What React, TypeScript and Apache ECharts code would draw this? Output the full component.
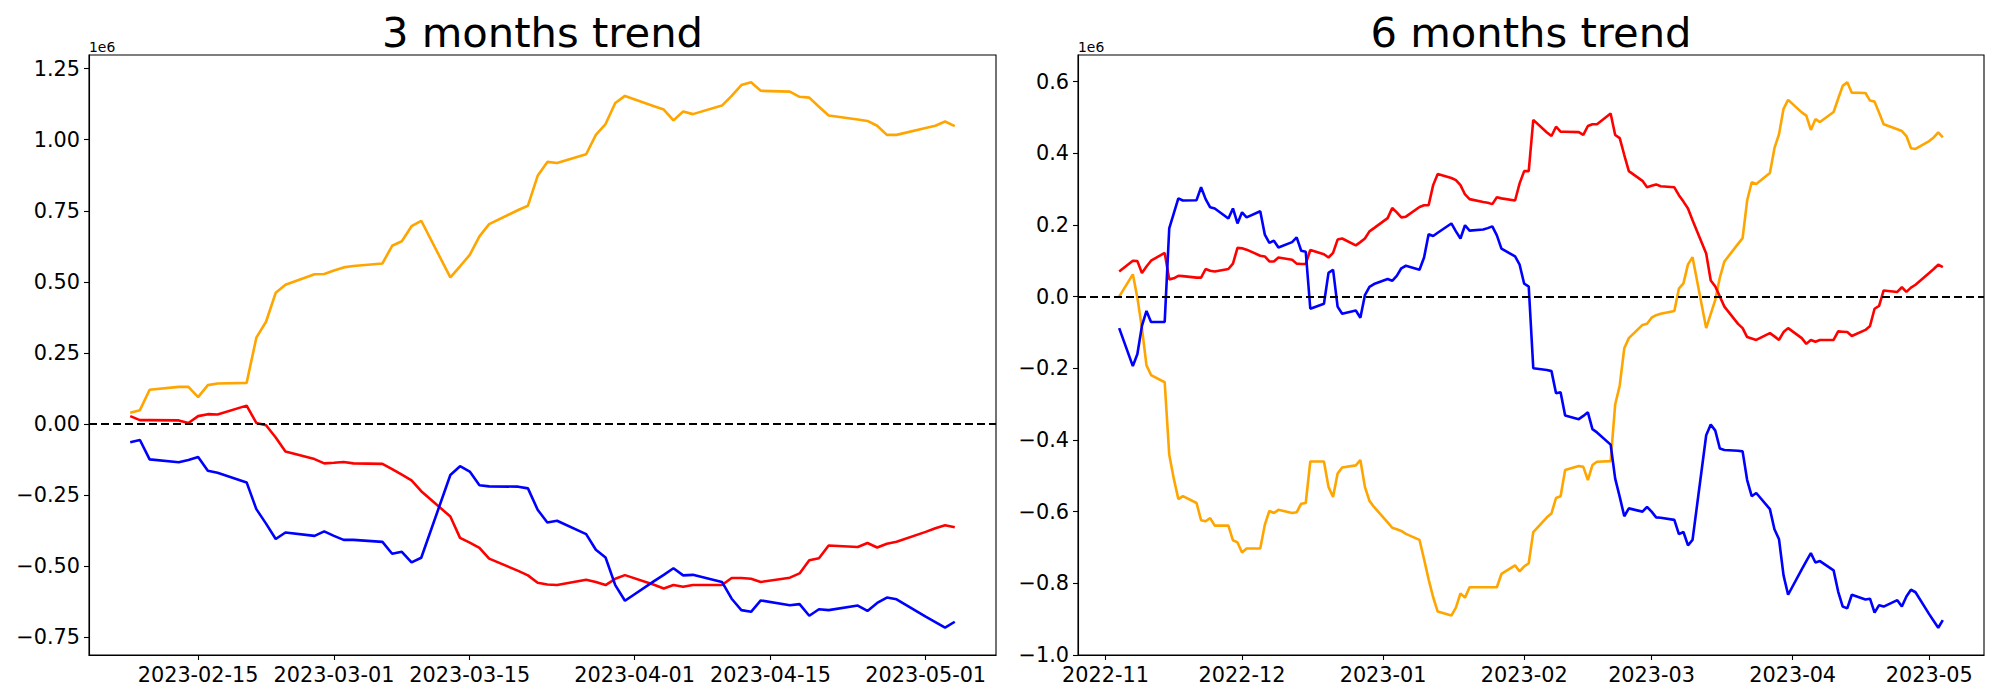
import React, { useEffect, useRef } from "react";
import * as echarts from "echarts";

// ---------- 3 months panel (values in units of 1e6) ----------
const DATES_3M = [
  "2023-02-08", "2023-02-09", "2023-02-10", "2023-02-13", "2023-02-14", "2023-02-15", "2023-02-16", "2023-02-17",
  "2023-02-20", "2023-02-21", "2023-02-22", "2023-02-23", "2023-02-24", "2023-02-27", "2023-02-28",
  "2023-03-01", "2023-03-02", "2023-03-03", "2023-03-06", "2023-03-07", "2023-03-08", "2023-03-09", "2023-03-10",
  "2023-03-13", "2023-03-14", "2023-03-15", "2023-03-16", "2023-03-17", "2023-03-20", "2023-03-21", "2023-03-22",
  "2023-03-23", "2023-03-24", "2023-03-27", "2023-03-28", "2023-03-29", "2023-03-30", "2023-03-31",
  "2023-04-03", "2023-04-04", "2023-04-05", "2023-04-06", "2023-04-07", "2023-04-10", "2023-04-11", "2023-04-12",
  "2023-04-13", "2023-04-14", "2023-04-17", "2023-04-18", "2023-04-19", "2023-04-20", "2023-04-21", "2023-04-24",
  "2023-04-25", "2023-04-26", "2023-04-27", "2023-04-28",
  "2023-05-01", "2023-05-02", "2023-05-03", "2023-05-04",
];
const ORANGE_3M = [
  0.040, 0.049, 0.121, 0.131, 0.131, 0.095, 0.137, 0.143, 0.145, 0.304, 0.360, 0.462, 0.490, 0.527, 0.528,
  0.540, 0.551, 0.556, 0.565, 0.627, 0.643, 0.696, 0.715, 0.516, 0.555, 0.595, 0.660, 0.703, 0.753, 0.768, 0.873,
  0.922, 0.918, 0.949, 1.017, 1.055, 1.129, 1.154,
  1.118, 1.106, 1.068, 1.099, 1.090, 1.120, 1.154, 1.192, 1.202, 1.172, 1.169, 1.151, 1.148, 1.116, 1.085, 1.071,
  1.066, 1.049, 1.017, 1.017,
  1.041, 1.049, 1.064, 1.048,
];
const RED_3M = [
  0.028, 0.014, 0.014, 0.013, 0.004, 0.028, 0.035, 0.034, 0.065, 0.004, -0.004, -0.047, -0.096, -0.123, -0.138,
  -0.136, -0.133, -0.138, -0.140, -0.158, -0.178, -0.198, -0.236, -0.325, -0.400, -0.417, -0.435, -0.473, -0.516,
  -0.532, -0.558, -0.564, -0.566, -0.547, -0.555, -0.566, -0.544, -0.531,
  -0.565, -0.578, -0.566, -0.572, -0.566, -0.566, -0.541, -0.541, -0.544, -0.555, -0.540, -0.525, -0.479, -0.472,
  -0.427, -0.432, -0.418, -0.434, -0.421, -0.414,
  -0.379, -0.366, -0.356, -0.363,
];
const BLUE_3M = [
  -0.064, -0.056, -0.124, -0.134, -0.126, -0.116, -0.164, -0.171, -0.205, -0.299, -0.350, -0.404, -0.381, -0.393, -0.377,
  -0.393, -0.407, -0.407, -0.414, -0.456, -0.449, -0.486, -0.470, -0.179, -0.148, -0.167, -0.215, -0.219, -0.220,
  -0.226, -0.301, -0.346, -0.340, -0.387, -0.442, -0.469, -0.566, -0.621,
  -0.552, -0.530, -0.507, -0.532, -0.530, -0.555, -0.614, -0.654, -0.660, -0.620, -0.637, -0.633, -0.674, -0.651,
  -0.654, -0.638, -0.657, -0.629, -0.610, -0.616,
  -0.677, -0.696, -0.716, -0.695,
];
const XTICKS_3M = ["2023-02-15", "2023-03-01", "2023-03-15", "2023-04-01", "2023-04-15", "2023-05-01"];
const YTICKS_3M = [-0.75, -0.5, -0.25, 0, 0.25, 0.5, 0.75, 1.0, 1.25];

// ---------- 6 months panel (values in units of 1e6) ----------
const DATES_6M = [
  "2022-11-04", "2022-11-07", "2022-11-08", "2022-11-09", "2022-11-10", "2022-11-11", "2022-11-14", "2022-11-15",
  "2022-11-16", "2022-11-17", "2022-11-18", "2022-11-21", "2022-11-22", "2022-11-23", "2022-11-24", "2022-11-25",
  "2022-11-28", "2022-11-29", "2022-11-30",
  "2022-12-01", "2022-12-02", "2022-12-05", "2022-12-06", "2022-12-07", "2022-12-08", "2022-12-09", "2022-12-12",
  "2022-12-13", "2022-12-14", "2022-12-15", "2022-12-16", "2022-12-19", "2022-12-20", "2022-12-21", "2022-12-22",
  "2022-12-23", "2022-12-26", "2022-12-27", "2022-12-28", "2022-12-29", "2022-12-30",
  "2023-01-02", "2023-01-03", "2023-01-04", "2023-01-05", "2023-01-06", "2023-01-09", "2023-01-10", "2023-01-11",
  "2023-01-12", "2023-01-13", "2023-01-16", "2023-01-17", "2023-01-18", "2023-01-19", "2023-01-20", "2023-01-23",
  "2023-01-24", "2023-01-25", "2023-01-26", "2023-01-27", "2023-01-30", "2023-01-31",
  "2023-02-01", "2023-02-02", "2023-02-03", "2023-02-06", "2023-02-07", "2023-02-08", "2023-02-09", "2023-02-10",
  "2023-02-13", "2023-02-14", "2023-02-15", "2023-02-16", "2023-02-17", "2023-02-20", "2023-02-21", "2023-02-22",
  "2023-02-23", "2023-02-24", "2023-02-27", "2023-02-28",
  "2023-03-01", "2023-03-02", "2023-03-03", "2023-03-06", "2023-03-07", "2023-03-08", "2023-03-09", "2023-03-10",
  "2023-03-13", "2023-03-14", "2023-03-15", "2023-03-16", "2023-03-17", "2023-03-20", "2023-03-21", "2023-03-22",
  "2023-03-23", "2023-03-24", "2023-03-27", "2023-03-28", "2023-03-29", "2023-03-30", "2023-03-31",
  "2023-04-03", "2023-04-04", "2023-04-05", "2023-04-06", "2023-04-07", "2023-04-10", "2023-04-11", "2023-04-12",
  "2023-04-13", "2023-04-14", "2023-04-17", "2023-04-18", "2023-04-19", "2023-04-20", "2023-04-21", "2023-04-24",
  "2023-04-25", "2023-04-26", "2023-04-27", "2023-04-28",
  "2023-05-01", "2023-05-02", "2023-05-03", "2023-05-04",
];
const ORANGE_6M = [
  0.000, 0.062, -0.003, -0.088, -0.192, -0.219, -0.239, -0.441, -0.508, -0.565, -0.557, -0.576, -0.624, -0.627,
  -0.618, -0.639, -0.639, -0.680, -0.686,
  -0.714, -0.703, -0.703, -0.637, -0.598, -0.604, -0.595, -0.604, -0.602, -0.578, -0.576, -0.460, -0.460, -0.531,
  -0.559, -0.494, -0.477, -0.471, -0.456, -0.531, -0.570, -0.587,
  -0.630, -0.645, -0.649, -0.654, -0.662, -0.679, -0.733, -0.789, -0.839, -0.879, -0.890, -0.868, -0.828, -0.840,
  -0.811, -0.811, -0.811, -0.811, -0.811, -0.774, -0.750, -0.767,
  -0.753, -0.744, -0.657, -0.616, -0.605, -0.562, -0.557, -0.484, -0.473, -0.475, -0.512, -0.470, -0.461, -0.459,
  -0.301, -0.248, -0.144, -0.116, -0.079, -0.076,
  -0.059, -0.052, -0.048, -0.040, 0.022, 0.037, 0.090, 0.110, -0.088, -0.048, -0.009, 0.053, 0.098, 0.147, 0.163,
  0.268, 0.319, 0.314, 0.345, 0.414, 0.453, 0.524, 0.549,
  0.514, 0.505, 0.465, 0.495, 0.487, 0.515, 0.552, 0.588, 0.598, 0.569, 0.568, 0.547, 0.544, 0.513, 0.481, 0.467,
  0.462, 0.448, 0.414, 0.412,
  0.434, 0.444, 0.458, 0.444,
];
const RED_6M = [
  0.070, 0.100, 0.099, 0.066, 0.084, 0.100, 0.122, 0.048, 0.051, 0.058, 0.057, 0.053, 0.053, 0.077, 0.072, 0.070,
  0.077, 0.092, 0.136,
  0.135, 0.131, 0.114, 0.112, 0.098, 0.098, 0.109, 0.103, 0.092, 0.091, 0.091, 0.130, 0.118, 0.109, 0.122, 0.159,
  0.162, 0.143, 0.152, 0.162, 0.182, 0.191,
  0.219, 0.247, 0.235, 0.221, 0.223, 0.250, 0.255, 0.255, 0.311, 0.342, 0.331, 0.325, 0.311, 0.285, 0.272, 0.264,
  0.262, 0.258, 0.277, 0.274, 0.268, 0.316,
  0.350, 0.350, 0.493, 0.458, 0.448, 0.474, 0.460, 0.460, 0.459, 0.451, 0.476, 0.481, 0.481, 0.511, 0.451, 0.442,
  0.395, 0.350, 0.323, 0.305,
  0.309, 0.313, 0.308, 0.305, 0.283, 0.265, 0.246, 0.213, 0.120, 0.045, 0.028, 0.000, -0.028, -0.076, -0.088,
  -0.113, -0.117, -0.121, -0.102, -0.111, -0.121, -0.099, -0.088,
  -0.116, -0.132, -0.121, -0.126, -0.121, -0.121, -0.097, -0.098, -0.099, -0.110, -0.093, -0.082, -0.034, -0.026,
  0.017, 0.013, 0.026, 0.013, 0.025, 0.033,
  0.066, 0.077, 0.089, 0.082,
];
const BLUE_6M = [
  -0.088, -0.194, -0.160, -0.082, -0.040, -0.071, -0.071, 0.190, 0.232, 0.274, 0.268, 0.269, 0.305, 0.272, 0.249,
  0.246, 0.218, 0.246, 0.204,
  0.235, 0.221, 0.238, 0.173, 0.150, 0.156, 0.137, 0.152, 0.165, 0.128, 0.125, -0.034, -0.020, 0.066, 0.075,
  -0.028, -0.048, -0.039, -0.059, 0.004, 0.027, 0.035,
  0.049, 0.044, 0.058, 0.079, 0.086, 0.075, 0.109, 0.174, 0.169, 0.178, 0.204, 0.182, 0.162, 0.199, 0.184, 0.187,
  0.191, 0.196, 0.171, 0.134, 0.112, 0.089,
  0.036, 0.028, -0.200, -0.205, -0.208, -0.270, -0.267, -0.332, -0.342, -0.333, -0.323, -0.370, -0.379, -0.413,
  -0.508, -0.559, -0.613, -0.591, -0.600, -0.587,
  -0.600, -0.616, -0.617, -0.623, -0.663, -0.657, -0.694, -0.679, -0.387, -0.357, -0.374, -0.424, -0.428, -0.430,
  -0.432, -0.512, -0.557, -0.548, -0.593, -0.649, -0.677, -0.778, -0.832,
  -0.761, -0.738, -0.716, -0.742, -0.738, -0.764, -0.823, -0.865, -0.870, -0.832, -0.845, -0.843, -0.882, -0.861,
  -0.865, -0.847, -0.865, -0.837, -0.818, -0.825,
  -0.886, -0.905, -0.924, -0.903,
];
const XTICKS_6M = ["2022-11-01", "2022-12-01", "2023-01-01", "2023-02-01", "2023-03-01", "2023-04-01", "2023-05-01"];
const YTICKS_6M = [-1.0, -0.8, -0.6, -0.4, -0.2, 0, 0.2, 0.4, 0.6];

const TITLES = ["3 months trend", "6 months trend"];
const OFFSET_LABEL = "1e6";
const COLORS = { orange: "#FFA500", red: "#FF0000", blue: "#0000FF" };

const FONT = "DejaVu Sans";
const MINUS = "\u2212";

function ts(s: string): number {
  const [y, m, d] = s.split("-").map(Number);
  return Date.UTC(y, m - 1, d);
}
function pad2(n: number) {
  return n < 10 ? "0" + n : "" + n;
}
function fmtNum(v: number, dec: number) {
  const r = Math.abs(v) < 1e-9 ? 0 : v;
  const s = r.toFixed(dec);
  return s.startsWith("-") ? MINUS + s.slice(1) : s;
}

// matplotlib-like autoscale (5% margins)
function extent(vals: number[]) {
  const lo = Math.min(...vals);
  const hi = Math.max(...vals);
  const p = (hi - lo) * 0.05;
  return [lo - p, hi + p];
}

const GRIDS = [
  { left: 89, top: 55, width: 907, height: 600 },
  { left: 1078, top: 55, width: 906, height: 600 },
];

export default function App() {
  const ref = useRef<HTMLDivElement>(null);
  useEffect(() => {
    if (!ref.current) return;
    const chart = echarts.init(ref.current, undefined, { renderer: "svg" });

    const panels = [
      {
        dates: DATES_3M, series: [ORANGE_3M, RED_3M, BLUE_3M], xticks: XTICKS_3M, yticks: YTICKS_3M,
        xfmt: (v: number) => { const d = new Date(v); return `${d.getUTCFullYear()}-${pad2(d.getUTCMonth() + 1)}-${pad2(d.getUTCDate())}`; },
        yfmt: (v: number) => fmtNum(v, 2),
      },
      {
        dates: DATES_6M, series: [ORANGE_6M, RED_6M, BLUE_6M], xticks: XTICKS_6M, yticks: YTICKS_6M,
        xfmt: (v: number) => { const d = new Date(v); return `${d.getUTCFullYear()}-${pad2(d.getUTCMonth() + 1)}`; },
        yfmt: (v: number) => fmtNum(v, 1),
      },
    ];

    const grid: any[] = [];
    const xAxis: any[] = [];
    const yAxis: any[] = [];
    const series: any[] = [];
    const graphic: any[] = [];
    const colorList = [COLORS.orange, COLORS.red, COLORS.blue];

    panels.forEach((p, i) => {
      const g = GRIDS[i];
      grid.push({ ...g, show: true, borderColor: "#000", borderWidth: 1.1, backgroundColor: "#fff" });
      const times = p.dates.map(ts);
      const [xmin, xmax] = extent(times);
      const [ymin, ymax] = extent(([] as number[]).concat(...p.series));
      const xt = p.xticks.map(ts);
      xAxis.push({
        type: "value", gridIndex: i, min: xmin, max: xmax, scale: true,
        splitLine: { show: false },
        axisLine: { show: true, onZero: false, lineStyle: { color: "#000", width: 1.1 } },
        axisTick: { show: true, inside: false, length: 5, customValues: xt, lineStyle: { color: "#000", width: 1.1 } },
        axisLabel: {
          show: true, customValues: xt, formatter: p.xfmt, color: "#000", fontSize: 20.8,
          fontFamily: FONT, margin: 9, hideOverlap: false,
        },
      });
      yAxis.push({
        type: "value", gridIndex: i, min: ymin, max: ymax, scale: true,
        splitLine: { show: false },
        axisLine: { show: true, lineStyle: { color: "#000", width: 1.1 } },
        axisTick: { show: true, inside: false, length: 5, customValues: p.yticks, lineStyle: { color: "#000", width: 1.1 } },
        axisLabel: {
          show: true, customValues: p.yticks, formatter: p.yfmt, color: "#000", fontSize: 20.8,
          fontFamily: FONT, margin: 9,
        },
      });
      p.series.forEach((vals, k) => {
        const s: any = {
          type: "line", xAxisIndex: i, yAxisIndex: i, showSymbol: false, symbol: "none",
          data: times.map((t, j) => [t, vals[j]]),
          lineStyle: { color: colorList[k], width: 2.6 },
          itemStyle: { color: colorList[k] },
          emphasis: { disabled: true }, silent: true, z: 2 + k,
        };
        if (k === p.series.length - 1) {
          s.markLine = {
            silent: true, symbol: "none", animation: false, z: 10,
            label: { show: false },
            lineStyle: { color: "#000", width: 2, type: [8, 4] },
            emphasis: { disabled: true },
            data: [{ yAxis: 0 }],
          };
        }
        series.push(s);
      });
      graphic.push({
        type: "text", x: g.left + g.width / 2, y: 32,
        style: { text: TITLES[i], fill: "#000", fontSize: 41.7, fontFamily: FONT, textAlign: "center", textVerticalAlign: "middle" },
      });
      graphic.push({
        type: "text", x: g.left, y: 46.5,
        style: { text: OFFSET_LABEL, fill: "#000", fontSize: 13.9, fontFamily: FONT, textAlign: "left", textVerticalAlign: "middle" },
      });
    });

    chart.setOption({
      animation: false,
      backgroundColor: "#fff",
      textStyle: { fontFamily: FONT },
      grid, xAxis, yAxis, series, graphic,
    });
    return () => chart.dispose();
  }, []);
  return (
    <div
      ref={ref}
      style={{ position: "fixed", left: 0, top: 0, width: 2000, height: 700, background: "#fff" }}
    />
  );
}
